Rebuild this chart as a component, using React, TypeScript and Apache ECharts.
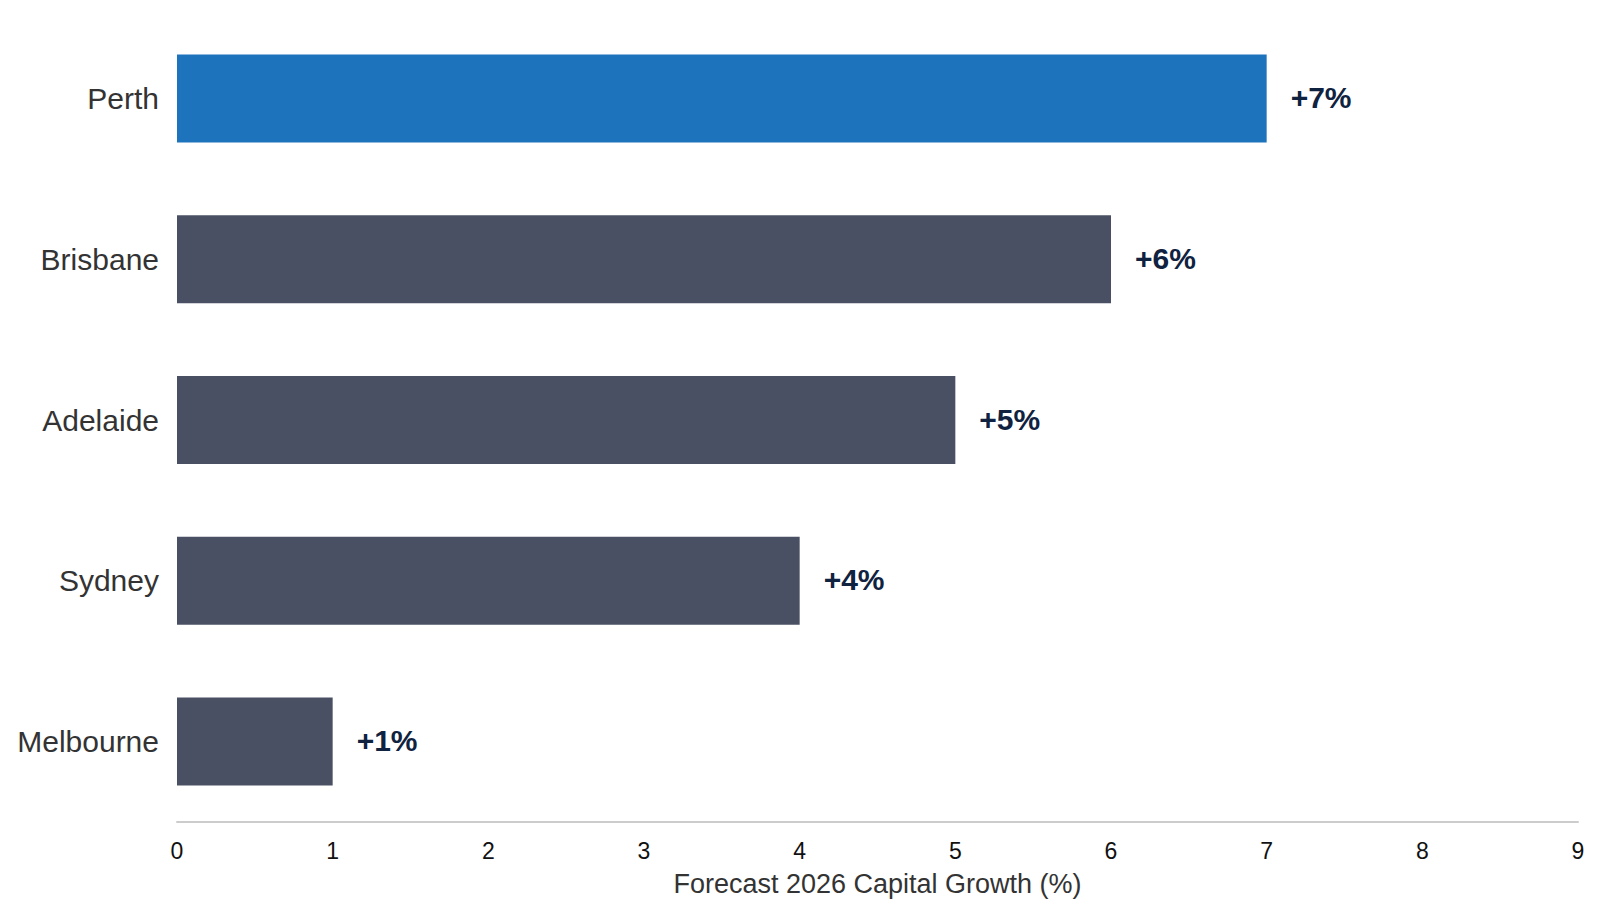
import React, { useEffect, useRef } from "react";
import * as echarts from "echarts";

const cities = ["Perth", "Brisbane", "Adelaide", "Sydney", "Melbourne"];
const growth = [7, 6, 5, 4, 1];
const barColors = ["#1e73bd", "#4a5063", "#4a5063", "#4a5063", "#4a5063"];
const xTicks = [0, 1, 2, 3, 4, 5, 6, 7, 8, 9];
const axisTitle = "Forecast 2026 Capital Growth (%)";

export default function App() {
  const ref = useRef<HTMLDivElement>(null);
  useEffect(() => {
    if (!ref.current) return;
    const chart = echarts.init(ref.current, undefined, { renderer: "svg" });
    chart.setOption({
      animation: false,
      textStyle: { fontFamily: "Liberation Sans, Arial, sans-serif" },
      grid: { left: 177, right: 23, top: 18, bottom: 95, containLabel: false },
      xAxis: {
        type: "value",
        min: xTicks[0],
        max: xTicks[xTicks.length - 1],
        interval: 1,
        axisLine: { show: true, lineStyle: { color: "#cccccc", width: 2 } },
        axisTick: { show: false },
        splitLine: { show: false },
        axisLabel: { fontSize: 23, color: "#111111", margin: 17 },
        name: axisTitle,
        nameLocation: "middle",
        nameGap: 48,
        nameTextStyle: { fontSize: 27, color: "#333333" },
      },
      yAxis: {
        type: "category",
        data: cities,
        inverse: true,
        axisLine: { show: false },
        axisTick: { show: false },
        axisLabel: { fontSize: 30, color: "#333333", margin: 18 },
      },
      series: [
        {
          type: "bar",
          barWidth: 88,
          data: growth.map((v, i) => ({ value: v, itemStyle: { color: barColors[i] } })),
          label: {
            show: true,
            position: "right",
            distance: 24,
            fontSize: 30,
            fontWeight: "bold",
            color: "#0f2240",
            offset: [0, -1],
            formatter: (p: any) => "+" + p.value + "%",
          },
        },
      ],
    });
    return () => chart.dispose();
  }, []);
  return <div ref={ref} style={{ width: 1601, height: 917, position: "absolute", left: 0, top: 0 }} />;
}
